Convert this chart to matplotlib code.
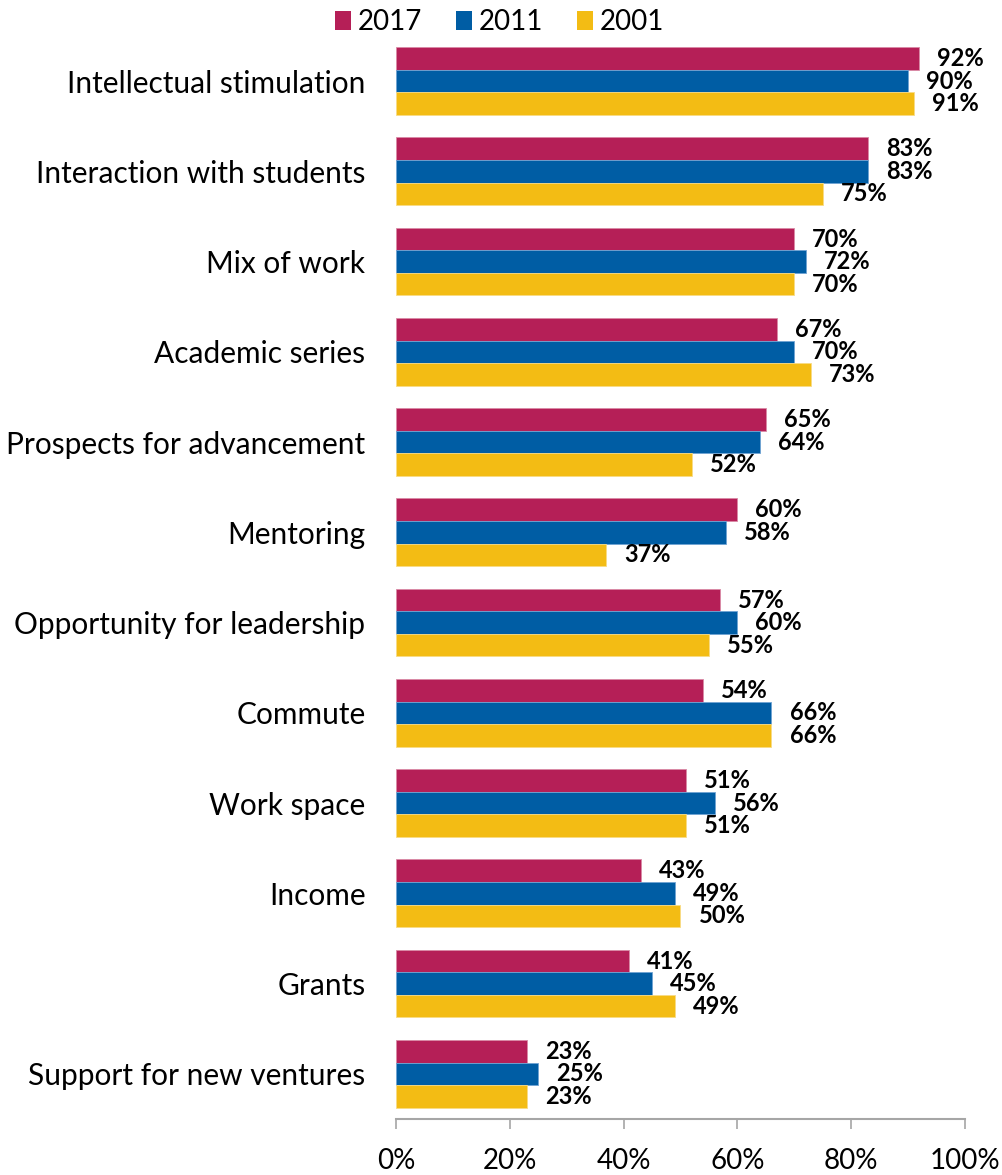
import numpy as np
import matplotlib
matplotlib.use('Agg')
import matplotlib.pyplot as plt
from matplotlib.patches import Patch

###################################Data#########################################

categories = ['Intellectual stimulation', 'Interaction with students', 'Mix of work',
              'Academic series', 'Prospects for advancement', 'Mentoring',
              'Opportunity for leadership', 'Commute', 'Work space', 'Income',
              'Grants', 'Support for new ventures']
years = ['2017', '2011', '2001']
vals_2017 = [92, 83, 70, 67, 65, 60, 57, 54, 51, 43, 41, 23]
vals_2011 = [90, 83, 72, 70, 64, 58, 60, 66, 56, 49, 45, 25]
vals_2001 = [91, 75, 70, 73, 52, 37, 55, 66, 51, 50, 49, 23]
x_ticks = [0, 20, 40, 60, 80, 100]

colors = ['#B51F57', '#005DA4', '#F3BC14']
edges = ['#D98AA6', '#6FA3D3', '#F8DB85']

####################################Plotting####################################

plt.rcParams['font.family'] = ['Lato', 'DejaVu Sans']

fig = plt.figure(figsize=(10.03, 11.75), dpi=100)
ax = fig.add_axes([0.3948, 0.0477, 0.5672, 0.9217])

y = np.arange(len(categories))
bar_h = 0.25
series = [vals_2017, vals_2011, vals_2001]

for k, vals in enumerate(series):
    pos = y + (k - 1) * bar_h
    ax.barh(pos, vals, height=bar_h, color=colors[k], edgecolor=edges[k], linewidth=0.6)
    for p, v in zip(pos, vals):
        ax.annotate('%d%%' % v, xy=(v, p), xytext=(13, 0), textcoords='offset points',
                    ha='left', va='center', fontsize=17, fontweight='bold', color='black')

ax.set_xlim(0, 100)
ax.set_ylim(len(categories) - 0.5, -0.5)
ax.set_xticks(x_ticks)
ax.set_xticklabels(['%d%%' % t for t in x_ticks], fontsize=20)
ax.set_yticks(y)
ax.set_yticklabels(categories, fontsize=21.5)

ax.tick_params(axis='y', length=0, pad=22)
ax.tick_params(axis='x', length=7, width=1.2, color='#A6A6A6', pad=14, direction='out')

for s in ['top', 'right', 'left']:
    ax.spines[s].set_visible(False)
ax.spines['bottom'].set_color('#A6A6A6')
ax.spines['bottom'].set_linewidth(1.5)

handles = [Patch(facecolor=c, edgecolor='none') for c in colors]
fig.legend(handles, years, loc='center', bbox_to_anchor=(0.498, 0.981), ncol=3,
           frameon=False, fontsize=20, handlelength=0.58, handleheight=0.7,
           handletextpad=0.25, columnspacing=1.2)

plt.savefig('out.png', dpi=100)
